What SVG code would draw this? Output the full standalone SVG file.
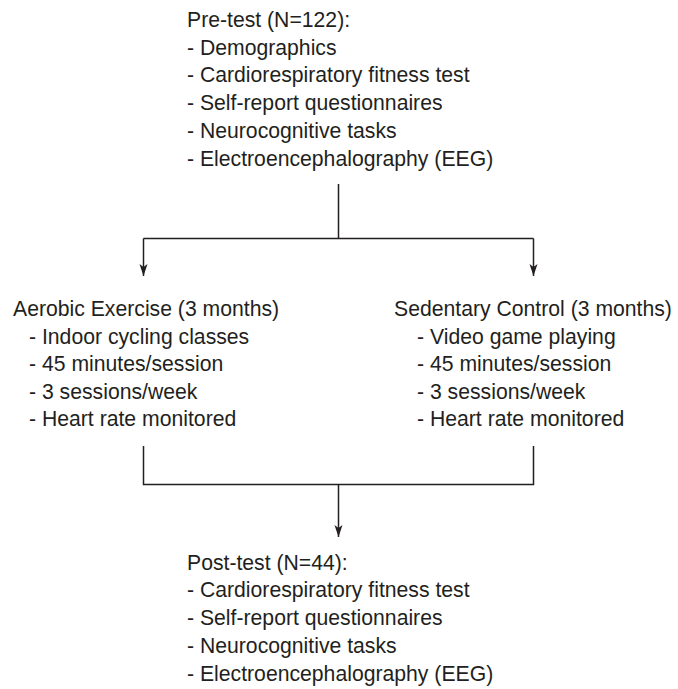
<svg xmlns="http://www.w3.org/2000/svg" width="678" height="689" viewBox="0 0 678 689">
<style>
text{font-family:"Liberation Sans",Arial,sans-serif;font-size:21.2px;fill:#231f20}
.c{stroke:#231f20;stroke-width:1.5;fill:none}
</style>
<defs>
<marker id="ah" markerWidth="13" markerHeight="9" refX="12" refY="4.5" orient="auto" markerUnits="userSpaceOnUse" viewBox="0 0 13 9">
<path d="M0,0.5 L12,4.5 L0,8.5 L3,4.5 Z" fill="#231f20"/>
</marker>
</defs>
<rect width="678" height="689" fill="#fff"/>
<g id="pretest">
<text x="187" y="27">Pre-test (N=122):</text>
<text x="187" y="54.5">- Demographics</text>
<text x="187" y="82.3">- Cardiorespiratory fitness test</text>
<text x="187" y="110">- Self-report questionnaires</text>
<text x="187" y="137.8">- Neurocognitive tasks</text>
<text x="187" y="165.6">- Electroencephalography (EEG)</text>
</g>
<g id="aerobic">
<text x="13" y="316">Aerobic Exercise (3 months)</text>
<text x="29" y="343.6">- Indoor cycling classes</text>
<text x="29" y="371.2">- 45 minutes/session</text>
<text x="29" y="398.8">- 3 sessions/week</text>
<text x="29" y="426.4">- Heart rate monitored</text>
</g>
<g id="sedentary">
<text x="394" y="316">Sedentary Control (3 months)</text>
<text x="417" y="343.6">- Video game playing</text>
<text x="417" y="371.2">- 45 minutes/session</text>
<text x="417" y="398.8">- 3 sessions/week</text>
<text x="417" y="426.4">- Heart rate monitored</text>
</g>
<g id="posttest">
<text x="187" y="569.5">Post-test (N=44):</text>
<text x="187" y="597.3">- Cardiorespiratory fitness test</text>
<text x="187" y="625">- Self-report questionnaires</text>
<text x="187" y="652.8">- Neurocognitive tasks</text>
<text x="187" y="680.5">- Electroencephalography (EEG)</text>
</g>
<g id="connectors">
<path class="c" d="M338.5,184 V238.5 M143.5,238.5 H533.5"/>
<path class="c" d="M143.5,238.5 V276" marker-end="url(#ah)"/>
<path class="c" d="M533.5,238.5 V276" marker-end="url(#ah)"/>
<path class="c" d="M143.5,446 V484.5 H533.5 V446"/>
<path class="c" d="M338.5,484.5 V537" marker-end="url(#ah)"/>
</g>
</svg>
